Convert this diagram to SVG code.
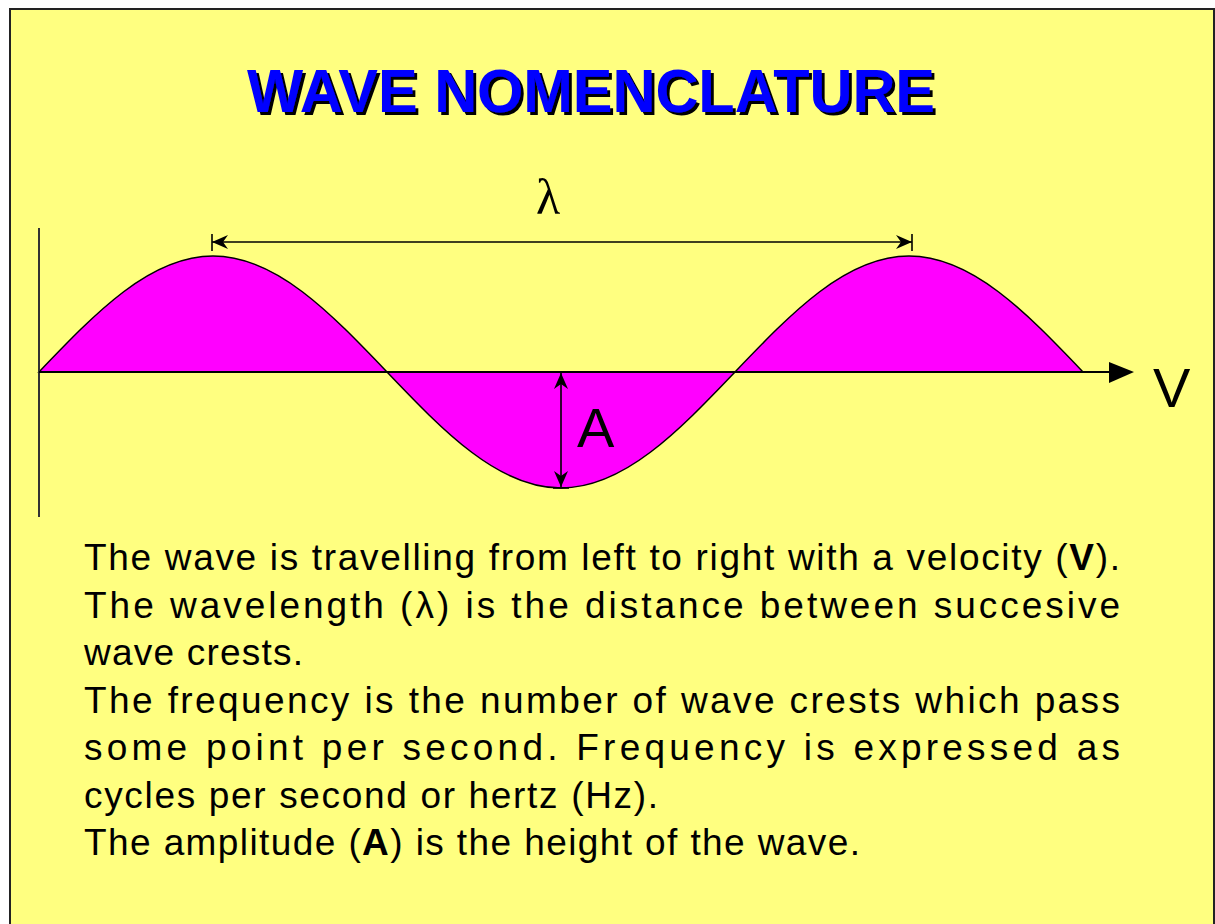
<svg xmlns="http://www.w3.org/2000/svg" width="1215" height="924" viewBox="0 0 1215 924">
<defs>
<style>
.body{font-family:"Liberation Sans",Arial,sans-serif;font-size:37px;fill:#000}
.lbl{font-family:"Liberation Sans",Arial,sans-serif;font-size:56px;fill:#000}
.title{font-family:"Liberation Sans",Arial,sans-serif;font-size:61px;font-weight:bold}
.ln{stroke:#000;stroke-width:1.6;fill:none}
</style>
<filter id="sh" x="-5%" y="-20%" width="110%" height="140%">
<feOffset in="SourceAlpha" dx="3" dy="3" result="o"/>
<feMerge><feMergeNode in="o"/><feMergeNode in="SourceGraphic"/></feMerge>
</filter>
<marker id="ah" viewBox="0 0 16 14" refX="16" refY="7" markerWidth="16" markerHeight="14" markerUnits="userSpaceOnUse" orient="auto-start-reverse">
<path d="M16,7 L0,0 L5,7 L0,14 Z" fill="#000"/>
</marker>
</defs>
<rect x="0" y="0" width="1215" height="924" fill="#fff"/>
<rect x="10" y="9" width="1204" height="930" fill="#FFFF80" stroke="#222" stroke-width="2"/>
<g id="title">
<text class="title" x="247" y="112" fill="#0000FF" filter="url(#sh)" textLength="688" lengthAdjust="spacingAndGlyphs">WAVE NOMENCLATURE</text>
</g>
<g id="wave">
<path d="M39,372 C95.75,312.6 150.03,256 213,256 C275.97,256 330.25,312.6 387,372 C443.75,431.4 498.03,488 561,488 C623.97,488 678.25,431.4 735,372 C791.75,312.6 846.03,256 909,256 C971.97,256 1026.25,312.6 1083,372 Z" fill="#FF00FF" stroke="#000" stroke-width="1.5"/>
</g>
<g id="axes">
<line x1="39" y1="228" x2="39" y2="517" stroke="#333" stroke-width="2"/>
<line x1="39" y1="372" x2="1112" y2="372" stroke="#000" stroke-width="2"/>
<polygon points="1109,362 1134,372 1109,383" fill="#000"/>
<text class="lbl" x="1153" y="407">V</text>
</g>
<g id="connectors">
<line class="ln" x1="212" y1="242" x2="912" y2="242" marker-start="url(#ah)" marker-end="url(#ah)"/>
<line class="ln" x1="212" y1="234" x2="212" y2="251"/>
<line class="ln" x1="912" y1="234" x2="912" y2="251"/>
<line class="ln" x1="561" y1="373" x2="561" y2="487" marker-start="url(#ah)" marker-end="url(#ah)"/>
<line class="ln" x1="553" y1="488" x2="569" y2="488"/>
</g>
<g id="labels">
<text x="548" y="214" text-anchor="middle" style="font-family:'Liberation Serif','Times New Roman',serif;font-size:50px;fill:#000">λ</text>
<text class="lbl" x="577" y="447">A</text>
</g>
<g id="description">
<text class="body" x="84" y="570" textLength="1036" lengthAdjust="spacing">The wave is travelling from left to right with a velocity (<tspan font-weight="bold">V</tspan>).</text>
<text class="body" x="84" y="618" textLength="1036" lengthAdjust="spacing">The wavelength (λ) is the distance between succesive</text>
<text class="body" x="84" y="665" textLength="219" lengthAdjust="spacing">wave crests.</text>
<text class="body" x="84" y="713" textLength="1036" lengthAdjust="spacing">The frequency is the number of wave crests which pass</text>
<text class="body" x="84" y="760" textLength="1036" lengthAdjust="spacing">some point per second. Frequency is expressed as</text>
<text class="body" x="84" y="808" textLength="574" lengthAdjust="spacing">cycles per second or hertz (Hz).</text>
<text class="body" x="84" y="855" textLength="776" lengthAdjust="spacing">The amplitude (<tspan font-weight="bold">A</tspan>) is the height of the wave.</text>
</g>
</svg>
